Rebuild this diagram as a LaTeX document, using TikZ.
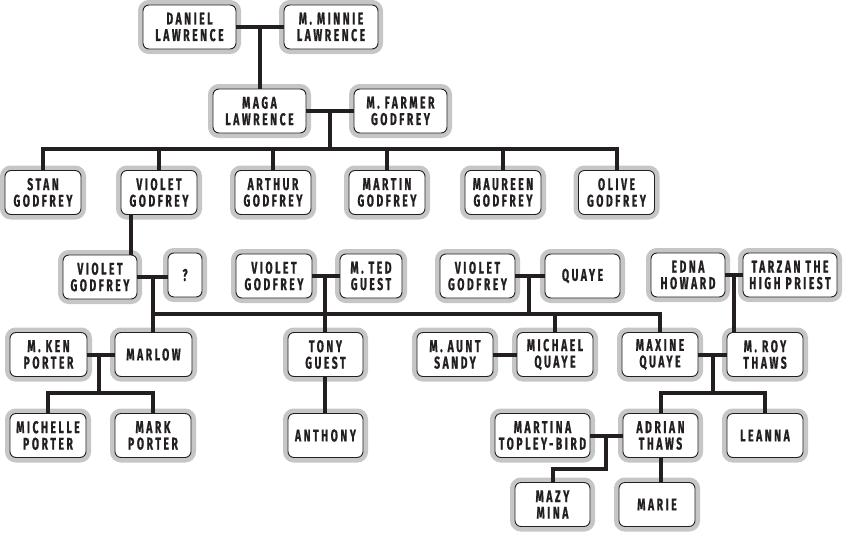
\documentclass[tikz,border=0pt]{standalone}
\usepackage{fontspec}
\usetikzlibrary{calc}
\newfontfamily\boxfont[FakeStretch=0.61,LetterSpace=15,FakeBold=0.8]{Fira Sans Bold}
\definecolor{ink}{HTML}{231F20}
\definecolor{ring}{HTML}{C6C6C6}
\tikzset{
  person/.style={draw=ink, line width=0.9pt, fill=white, rounded corners=6pt,
    preaction={draw=ring, line width=10pt},
    inner sep=0pt, minimum height=44pt, text=ink, align=center,
    font=\boxfont\fontsize{17}{16.5}\selectfont},
  link/.style={draw=ink, line width=4pt, line join=miter, line cap=butt}
}
\begin{document}
\begin{tikzpicture}[x=1pt,y=-1pt]
\useasboundingbox (0,0) rectangle (843,533);
% row 1
\node[person, minimum width=93pt] (dan) at (189.5,27) {DANIEL\\LAWRENCE};
\node[person, minimum width=94pt] (min) at (331,27) {M. MINNIE\\LAWRENCE};
% row 2
\node[person, minimum width=93pt] (maga) at (259.5,111) {MAGA\\LAWRENCE};
\node[person, minimum width=93pt] (farm) at (400.5,111) {M. FARMER\\GODFREY};
% row 3
\node[person, minimum width=76pt] (stan) at (43,192.5) {STAN\\GODFREY};
\node[person, minimum width=76pt] (vio) at (159,192.5) {VIOLET\\GODFREY};
\node[person, minimum width=76pt] (art) at (273,192.5) {ARTHUR\\GODFREY};
\node[person, minimum width=76pt] (mart) at (387,192.5) {MARTIN\\GODFREY};
\node[person, minimum width=76pt] (maur) at (503,192.5) {MAUREEN\\GODFREY};
\node[person, minimum width=76pt] (oli) at (616.5,192.5) {OLIVE\\GODFREY};
% row 4
\node[person, minimum width=74pt] (va) at (100,277) {VIOLET\\GODFREY};
\node[person, minimum width=34pt] (q) at (185,275) {?};
\node[person, minimum width=76pt] (vb) at (274,276) {VIOLET\\GODFREY};
\node[person, minimum width=62pt] (ted) at (371,276) {M. TED\\GUEST};
\node[person, minimum width=75pt] (vc) at (477.5,276) {VIOLET\\GODFREY};
\node[person, minimum width=75pt] (quaye) at (582.5,276) {QUAYE};
\node[person, minimum width=74pt] (edna) at (688,275) {EDNA\\HOWARD};
\node[person, minimum width=94pt] (tarz) at (790,275) {TARZAN THE\\HIGH PRIEST};
% row 5
\node[person, minimum width=77pt] (ken) at (48.5,354.5) {M. KEN\\PORTER};
\node[person, minimum width=77pt] (marlow) at (153.5,354.5) {MARLOW};
\node[person, minimum width=75pt] (tony) at (325.5,354.5) {TONY\\GUEST};
\node[person, minimum width=76pt] (sandy) at (455,354.5) {M. AUNT\\SANDY};
\node[person, minimum width=76pt] (mich) at (555,354.5) {MICHAEL\\QUAYE};
\node[person, minimum width=76pt] (max) at (660,354.5) {MAXINE\\QUAYE};
\node[person, minimum width=76pt] (roy) at (765,354.5) {M. ROY\\THAWS};
% row 6
\node[person, minimum width=76pt] (michelle) at (48,435.5) {MICHELLE\\PORTER};
\node[person, minimum width=76pt] (mark) at (153,435.5) {MARK\\PORTER};
\node[person, minimum width=75pt] (anth) at (325.5,435.5) {ANTHONY};
\node[person, minimum width=95pt] (martina) at (542.5,435.5) {MARTINA\\TOPLEY-BIRD};
\node[person, minimum width=75pt] (adrian) at (660.5,435.5) {ADRIAN\\THAWS};
\node[person, minimum width=76pt] (leanna) at (765,435.5) {LEANNA};
% row 7
\node[person, minimum width=75pt] (mazy) at (552.5,504.5) {MAZY\\MINA};
\node[person, minimum width=76pt] (marie) at (657,504.5) {MARIE};

% helper coordinates
\coordinate (b1) at (0,149);
\coordinate (vx) at (131,0);
\coordinate (b2) at (0,314);
\coordinate (x153) at (153,0);
\coordinate (x325) at (325,0);
\coordinate (x529) at (529,0);
\coordinate (x734) at (734,0);
\coordinate (x99) at (99,0);
\coordinate (b3) at (0,393);
\coordinate (x713) at (713,0);
\coordinate (x606) at (606,0);
\coordinate (b4) at (0,469);

% connectors
\draw[link] (dan.east) -- (min.west);
\draw[link] (maga.north) -- (maga.north |- dan.east);
\draw[link] (maga.east) -- (farm.west);
\coordinate (mf) at ($(maga.east)!0.5!(farm.west)$);
\draw[link] (mf) -- (mf |- b1);
\draw[link] (stan.north) -- (stan.north |- b1) -- (oli.north |- b1) -- (oli.north);
\draw[link] (vio.north) -- (vio.north |- b1);
\draw[link] (art.north) -- (art.north |- b1);
\draw[link] (mart.north) -- (mart.north |- b1);
\draw[link] (maur.north) -- (maur.north |- b1);
\draw[link] (vio.south -| vx) -- (va.north -| vx);

\draw[link] (va.east) -- (q.west |- va.east);
\draw[link] (va.east -| x153) -- (marlow.north -| x153);
\draw[link] (b2 -| x153) -- (b2 -| max.north) -- (max.north);
\draw[link] (vb.east) -- (ted.west |- vb.east);
\draw[link] (vb.east -| x325) -- (tony.north -| x325);
\draw[link] (vc.east) -- (quaye.west |- vc.east);
\draw[link] (vc.east -| x529) -- (b2 -| x529);
\draw[link] (b2 -| mich.north) -- (mich.north);
\draw[link] (edna.east) -- (tarz.west |- edna.east);
\draw[link] (edna.east -| x734) -- (roy.north -| x734);

\draw[link] (ken.east) -- (marlow.west |- ken.east);
\draw[link] (ken.east -| x99) -- (b3 -| x99);
\draw[link] (michelle.north) -- (michelle.north |- b3) -- (mark.north |- b3) -- (mark.north);
\draw[link] (tony.south -| x325) -- (anth.north -| x325);
\draw[link] (sandy.east) -- (mich.west |- sandy.east);
\draw[link] (max.east) -- (roy.west |- max.east);
\draw[link] (max.east -| x713) -- (b3 -| x713);
\draw[link] (adrian.north) -- (adrian.north |- b3) -- (leanna.north |- b3) -- (leanna.north);

\draw[link] (martina.east) -- (adrian.west |- martina.east);
\draw[link] (martina.east -| x606) -- (b4 -| x606) -- (b4 -| mazy.north) -- (mazy.north);
\draw[link] (adrian.south) -- (adrian.south |- marie.north);
\end{tikzpicture}
\end{document}
